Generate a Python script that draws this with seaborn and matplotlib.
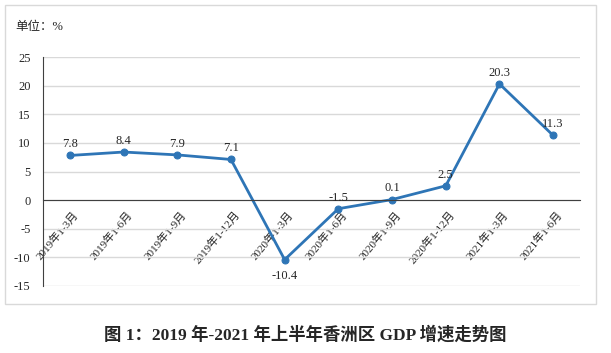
import pandas as pd
import seaborn as sns
import matplotlib.pyplot as plt
import matplotlib.transforms as mtransforms
from matplotlib.patches import Rectangle

# data
periods = ['2019年1-3月', '2019年1-6月', '2019年1-9月', '2019年1-12月',
           '2020年1-3月', '2020年1-6月', '2020年1-9月', '2020年1-12月',
           '2021年1-3月', '2021年1-6月']
growth = [7.8, 8.4, 7.9, 7.1, -10.4, -1.5, 0.1, 2.5, 20.3, 11.3]
yticks = [-15, -10, -5, 0, 5, 10, 15, 20, 25]

df = pd.DataFrame({'period': periods, 'growth': growth})

sns.set_style('white')
serif = ['Liberation Serif', 'Noto Sans CJK SC']
plt.rcParams['font.family'] = serif

fig = plt.figure(figsize=(6.11, 3.53), dpi=100)
ax = fig.add_axes([43/611, 1-286/353, 537/611, 229/353])

# light frame round the chart
fig.patches.append(Rectangle((5/611, 1-304/353), 591/611, 299/353,
                             transform=fig.transFigure, fill=False,
                             edgecolor='#D9D9D9', linewidth=1))

color = '#2E75B6'
sns.lineplot(data=df, x='period', y='growth', ax=ax, color=color,
             linewidth=2, marker='o', markersize=5, markeredgecolor=color,
             sort=False)

ax.set_xlim(-0.5, len(periods) - 0.5)
ax.set_ylim(-15, 25)
ax.set_yticks(yticks)
ax.set_yticklabels([str(v) for v in yticks], fontsize=9, family=serif)
ax.yaxis.grid(True, color='#D9D9D9', linewidth=1)
ax.set_axisbelow(True)
ax.set_xlabel('')
ax.set_ylabel('')

for s in ['top', 'right']:
    ax.spines[s].set_visible(False)
ax.spines['bottom'].set_position(('data', 0))
ax.spines['bottom'].set_color('#404040')
ax.spines['left'].set_color('#404040')

# category boundaries as ticks, labels at centres
ax.set_xticks([i - 0.5 for i in range(len(periods) + 1)], minor=True)
ax.tick_params(axis='x', which='minor', direction='in', length=4, color='#404040')
ax.tick_params(axis='x', which='major', length=0, pad=9)
ax.tick_params(axis='y', direction='out', length=3, color='#404040', pad=6)
ax.set_xticks(range(len(periods)))
ax.set_xticklabels(periods, rotation=50, ha='right', va='center',
                   rotation_mode='anchor', fontsize=8, family=serif)
offset = mtransforms.ScaledTranslation(7/100, 0, fig.dpi_scale_trans)
for lab in ax.get_xticklabels():
    lab.set_transform(lab.get_transform() + offset)

for i, v in enumerate(growth):
    dy = -12 if v < -5 else 8
    ax.annotate(f'{v}', (i, v), xytext=(0, dy), textcoords='offset points',
                ha='center', va='center', fontsize=9, family=serif)

fig.text(15/611, 1-27/353, '单位：%', fontsize=9, family=serif, va='center')
fig.text(305/611, 1-335/353, '图 1：2019 年-2021 年上半年香洲区 GDP 增速走势图',
         fontsize=12.5, fontweight='bold', ha='center', va='center', family=serif)

fig.savefig('out.png', dpi=100)
